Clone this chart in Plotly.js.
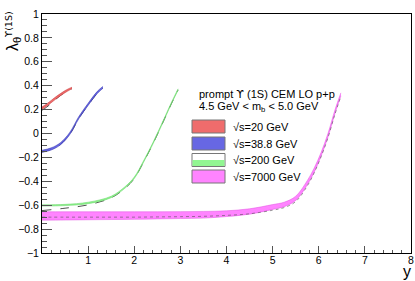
<!DOCTYPE html>
<html><head><meta charset="utf-8">
<script src="https://cdn.plot.ly/plotly-3.0.1.min.js"></script>
<style>html,body{margin:0;padding:0;background:#fff}#chart{width:415px;height:281px}</style>
</head><body><div id="chart"></div>
<script>
// ---- data ----
const seriesNames = ["√s=20 GeV", "√s=38.8 GeV", "√s=200 GeV", "√s=7000 GeV"];
const headerLines = ["prompt <span style=\"font-family:'DejaVu Sans'\">ϒ</span> (1S) CEM LO p+p", "4.5 GeV < m<sub>b</sub> < 5.0 GeV"];

const redX   = [0, 0.1, 0.2, 0.3, 0.4, 0.5, 0.6, 0.65];
const redLo  = [0.203, 0.228, 0.258, 0.288, 0.316, 0.342, 0.364, 0.374];
const redHi  = [0.222, 0.247, 0.277, 0.307, 0.334, 0.359, 0.379, 0.387];
const redAlt = [0.195, 0.220, 0.252, 0.287, 0.318, 0.345, 0.366, 0.376];

const blueX   = [0, 0.2, 0.4, 0.6, 0.8, 1.0, 1.2, 1.32];
const blueLo  = [-0.158, -0.138, -0.095, -0.010, 0.125, 0.235, 0.335, 0.378];
const blueHi  = [-0.140, -0.120, -0.077, 0.008, 0.143, 0.253, 0.353, 0.394];
const blueAlt = [-0.150, -0.132, -0.090, -0.008, 0.128, 0.238, 0.338, 0.382];

const greenX   = [0, 0.5, 1.0, 1.5, 1.8, 2.0, 2.2, 2.4, 2.6, 2.8, 2.95];
const greenLo  = [-0.607, -0.603, -0.587, -0.537, -0.457, -0.377, -0.242, -0.092, 0.073, 0.243, 0.362];
const greenHi  = [-0.597, -0.593, -0.575, -0.525, -0.445, -0.365, -0.230, -0.080, 0.085, 0.255, 0.374];
const greenAlt = [-0.645, -0.625, -0.597, -0.538, -0.458, -0.377, -0.240, -0.090, 0.075, 0.245, 0.365];

const magX   = [0, 0.5, 1, 1.5, 2, 2.5, 3, 3.5, 4, 4.5, 5, 5.25, 5.5, 5.75, 5.9, 6.05, 6.2, 6.35, 6.48];
const magLo  = [-0.725, -0.724, -0.722, -0.720, -0.718, -0.715, -0.712, -0.708, -0.695, -0.675, -0.635, -0.612, -0.560, -0.430, -0.325, -0.190, -0.030, 0.165, 0.315];
const magHi  = [-0.655, -0.655, -0.655, -0.655, -0.655, -0.655, -0.654, -0.652, -0.647, -0.630, -0.595, -0.575, -0.525, -0.395, -0.290, -0.160, 0.000, 0.195, 0.340];
const magAlt = [-0.700, -0.700, -0.700, -0.700, -0.700, -0.698, -0.696, -0.693, -0.685, -0.672, -0.642, -0.620, -0.570, -0.440, -0.330, -0.195, -0.035, 0.160, 0.310];

const xTicks = [1, 2, 3, 4, 5, 6, 7, 8];
const yTicks = [-1, -0.8, -0.6, -0.4, -0.2, 0, 0.2, 0.4, 0.6, 0.8, 1];
const yTickText = ["\u22121", "\u22120.8", "\u22120.6", "\u22120.4", "\u22120.2", "0", "0.2", "0.4", "0.6", "0.8", "1"];

// ---- styles ----
const FONT = "Liberation Sans, Arial, Helvetica, sans-serif";
const SYMFONT = "DejaVu Sans, Liberation Sans, sans-serif";
const fills = ["rgba(238,100,100,0.95)", "rgba(95,95,225,0.95)", "rgba(140,245,140,0.95)", "rgba(255,110,255,0.85)"];
const edges = ["#c03030", "#2828a8", "#60d060", "#e050e0"];

const W = 415, H = 281;
const M = {l: 42, r: 4, t: 14, b: 28};
const PW = W - M.l - M.r, PH = H - M.t - M.b;
const px = x => (x - M.l) / PW;
const py = y => 1 - (y - M.t) / PH;

const data = [];
const sets = [[redX, redLo, redHi, redAlt], [blueX, blueLo, blueHi, blueAlt],
              [greenX, greenLo, greenHi, greenAlt], [magX, magLo, magHi, magAlt]];
// draw 7000 first, then 200, 38.8, 20
[3, 2, 1, 0].forEach(i => {
  const [x, lo, hi, alt] = sets[i];
  if (i !== 3) data.push({x: x, y: alt, mode: "lines", line: {color: "#222", width: 0.8, dash: "dash", shape: "spline"}, hoverinfo: "skip", showlegend: false});
  data.push({x: x, y: lo, mode: "lines", line: {color: edges[i], width: 0.5, shape: "spline"}, showlegend: false, hoverinfo: "skip"});
  data.push({x: x, y: hi, mode: "lines", fill: "tonexty", fillcolor: fills[i], line: {color: edges[i], width: 0.5, shape: "spline"}, name: seriesNames[i], showlegend: false});
  if (i === 3) data.push({x: x, y: alt, mode: "lines", line: {color: "#555", width: 0.6, dash: "dot", shape: "spline"}, hoverinfo: "skip", showlegend: false});
});

// legend (custom, ROOT-like)
const boxY = [[120, 133], [137, 150], [153.5, 166.5], [170, 183]];
const shapes = [];
const annotations = [];
boxY.forEach((b, i) => {
  shapes.push({type: "rect", xref: "paper", yref: "paper", x0: px(192), x1: px(225), y0: py(b[1]), y1: py(b[0]),
    fillcolor: i === 2 ? "#fff" : fills[i], line: {color: "#777", width: 1}});
  if (i === 2) shapes.push({type: "rect", xref: "paper", yref: "paper", x0: px(192.5), x1: px(224.5), y0: py(b[1] - 0.5), y1: py((b[0] + b[1]) / 2),
    fillcolor: fills[i], line: {width: 0}});
  annotations.push({xref: "paper", yref: "paper", x: px(230.5), y: py((b[0] + b[1]) / 2), xanchor: "left", yanchor: "middle",
    text: seriesNames[i], showarrow: false, font: {family: FONT, size: 11, color: "#000"}});
});
annotations.push({xref: "paper", yref: "paper", x: px(196.5), y: py(94.5), xanchor: "left", yanchor: "middle",
  text: headerLines[0], showarrow: false, font: {family: FONT, size: 11, color: "#000"}});
annotations.push({xref: "paper", yref: "paper", x: px(196.5), y: py(106.5), xanchor: "left", yanchor: "middle",
  text: headerLines[1], showarrow: false, font: {family: FONT, size: 11, color: "#000"}});
// axis titles
annotations.push({xref: "paper", yref: "paper", x: px(406.5), y: py(271), xanchor: "center", yanchor: "middle",
  text: "y", showarrow: false, font: {family: FONT, size: 16, color: "#000"}});
annotations.push({xref: "paper", yref: "paper", x: px(13), y: py(44), xanchor: "center", yanchor: "middle", textangle: -90,
  text: "λ<sub>θ</sub>", showarrow: false, font: {family: FONT, size: 16, color: "#000"}});
annotations.push({xref: "paper", yref: "paper", x: px(8.5), y: py(25), xanchor: "center", yanchor: "middle", textangle: -90,
  text: "ϒ(1S)", showarrow: false, font: {family: SYMFONT, size: 9.5, color: "#000"}});

const layout = {
  width: W, height: H, margin: M,
  paper_bgcolor: "#fff", plot_bgcolor: "#fff",
  font: {family: FONT, size: 10.5, color: "#000"},
  showlegend: false,
  xaxis: {range: [0, 8], tickmode: "array", tickvals: xTicks, ticks: "inside", ticklen: 7, tickcolor: "#555", tickwidth: 1,
    showline: true, linecolor: "#000", linewidth: 1, mirror: true, showgrid: false, zeroline: false, ticklabelstandoff: -3,
    minor: {dtick: 0.2, tick0: 0, ticks: "inside", ticklen: 3.5, tickcolor: "#555", showgrid: false},
    tickfont: {family: FONT, size: 10.5, color: "#000"}},
  yaxis: {range: [-1, 1], tickmode: "array", tickvals: yTicks, ticktext: yTickText, ticks: "inside", ticklen: 10, tickcolor: "#555", tickwidth: 1,
    showline: true, linecolor: "#000", linewidth: 1, mirror: true, showgrid: false, zeroline: false,
    minor: {dtick: 0.05, tick0: 0, ticks: "inside", ticklen: 5, tickcolor: "#555", showgrid: false},
    tickfont: {family: FONT, size: 10.5, color: "#000"}},
  shapes: shapes,
  annotations: annotations
};

Plotly.newPlot("chart", data, layout, {displayModeBar: false, staticPlot: true});
</script></body></html>
